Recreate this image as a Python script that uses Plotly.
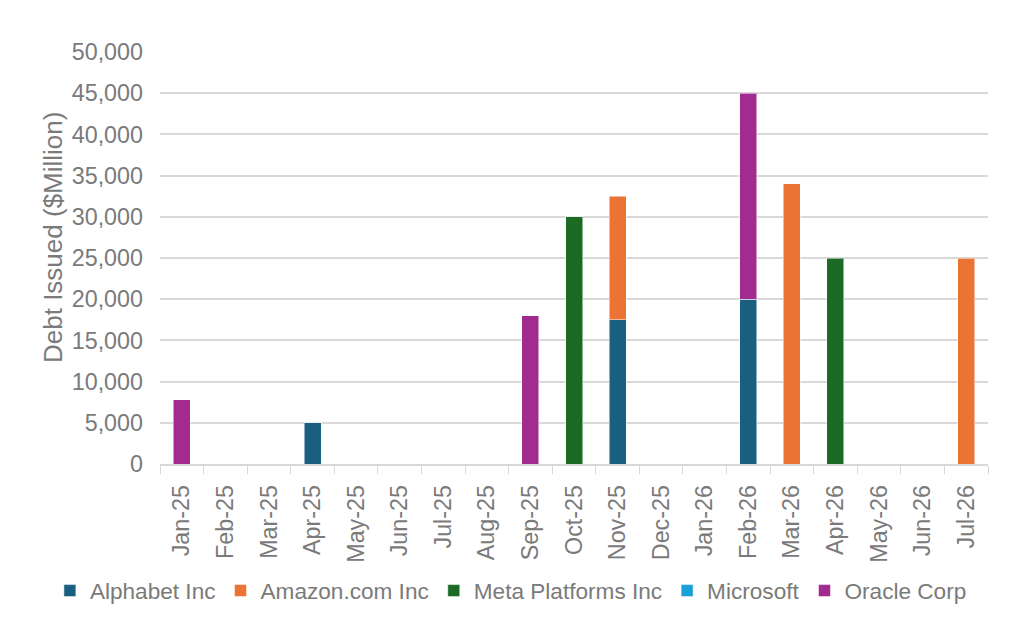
import plotly.graph_objects as go

# months on the x axis
months = ["Jan-25", "Feb-25", "Mar-25", "Apr-25", "May-25", "Jun-25", "Jul-25",
          "Aug-25", "Sep-25", "Oct-25", "Nov-25", "Dec-25", "Jan-26", "Feb-26",
          "Mar-26", "Apr-26", "May-26", "Jun-26", "Jul-26"]

# debt issued per company ($Million), None = nothing issued
alphabet = [None, None, None, 5000, None, None, None, None, None, None, 17500,
            None, None, 20000, None, None, None, None, None]
amazon = [None, None, None, None, None, None, None, None, None, None, 15000,
          None, None, None, 34000, None, None, None, 25000]
meta = [None, None, None, None, None, None, None, None, None, 30000, None,
        None, None, None, None, 25000, None, None, None]
microsoft = [None] * 19
oracle = [7800, None, None, None, None, None, None, None, 18000, None, None,
          None, None, 25000, None, None, None, None, None]

series = [
    ("Alphabet Inc", alphabet, "#185f80"),
    ("Amazon.com Inc", amazon, "#eb7334"),
    ("Meta Platforms Inc", meta, "#1c6b25"),
    ("Microsoft", microsoft, "#1aa0d9"),
    ("Oracle Corp", oracle, "#a22b90"),
]

grey = "#7a7a7a"
fsize = 23.3

fig = go.Figure()
for name, vals, col in series:
    fig.add_trace(go.Bar(
        x=months, y=vals, name=name,
        marker=dict(color=col, line=dict(color="rgba(255,255,255,0.5)", width=1)),
    ))

# page body has an 8px margin, so the margins are shifted by 8
fig.update_layout(
    barmode="stack",
    bargap=0.61,
    width=1024, height=639,
    margin=dict(l=152, r=44, t=44, b=183, autoexpand=False),
    plot_bgcolor="white", paper_bgcolor="white",
    font=dict(family="Liberation Sans, Arial, sans-serif", size=fsize, color=grey),
    # x < 0 with left anchor lets the legend use the left margin too (one row)
    legend=dict(orientation="h", x=-0.133, xanchor="left", y=-0.308, yanchor="middle",
                font=dict(size=22.6, color=grey), itemwidth=30,
                bgcolor="rgba(0,0,0,0)", traceorder="normal"),
    showlegend=True,
)
# y title as annotation: sits a bit above the plot centre in the original
fig.add_annotation(
    text="Debt Issued ($Million)", textangle=-90, showarrow=False,
    xref="paper", yref="paper", x=-0.129, y=0.549, xanchor="center", yanchor="middle",
    font=dict(size=26, color=grey),
)
fig.update_yaxes(
    range=[0, 50000], dtick=5000, tickformat=",", showgrid=True,
    gridcolor="#d9d9d9", gridwidth=1.5, zeroline=False, showline=False,
    tickfont=dict(size=fsize, color=grey), ticks="", ticklen=0, ticklabelstandoff=16,
)
fig.update_xaxes(
    type="category", tickangle=-90, showline=True, linecolor="#d9d9d9", linewidth=1.5,
    ticks="outside", tickson="boundaries", ticklen=8, tickcolor="#d9d9d9",
    tickfont=dict(size=fsize, color=grey), ticklabelstandoff=10, showgrid=False,
)

fig.write_html("out.html")
